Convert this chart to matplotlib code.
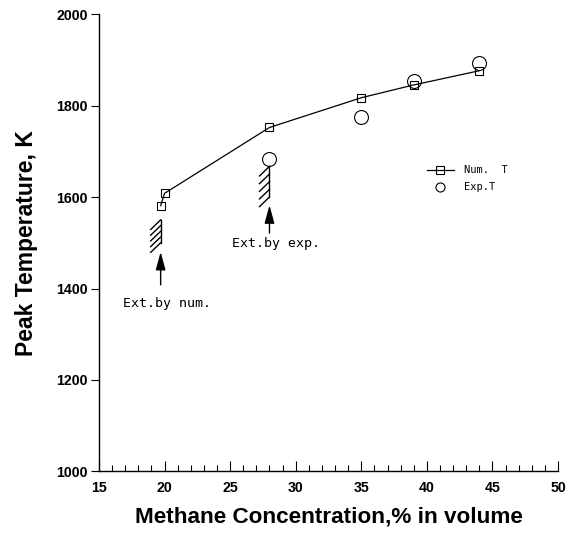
import matplotlib.pyplot as plt
from matplotlib.ticker import MultipleLocator

# peak flame temperature vs. methane concentration
x_num = [19.7, 20, 28, 35, 39, 44]
t_num = [1581, 1608, 1752, 1817, 1845, 1876]
x_exp = [28, 35, 39, 44]
t_exp = [1682, 1774, 1853, 1894]

# extinction limits: (x, hatch top, hatch bottom, arrow tip, arrow tail, label, label x, label y)
limits = [
    (19.7, 1550, 1500, 1480, 1408, 'Ext.by num.', 20.2, 1368),
    (28.0, 1667, 1600, 1582, 1521, 'Ext.by exp.', 28.5, 1498),
]

fig = plt.figure(figsize=(5.68, 5.35), dpi=100)
ax = fig.add_axes([0.1743, 0.1187, 0.8081, 0.8551])

ax.plot(x_num, t_num, color='black', lw=0.9, marker='s', ms=5.8,
        mfc='none', mec='black', mew=0.8, clip_on=False)
ax.plot(x_exp, t_exp, ls='none', marker='o', ms=10,
        mfc='none', mec='black', mew=0.8, clip_on=False)


def hatch_mark(ax, x, y_top, y_bot, n=5):
    # vertical bar with short diagonal strokes hanging off to the left
    ax.plot([x, x], [y_top, y_bot], color='black', lw=1.0)
    dx, dy = 0.76, 21.0
    step = (y_top - y_bot) / (n - 1)
    for i in range(n):
        y = y_top - i * step
        ax.plot([x, x - dx], [y, y - dy], color='black', lw=1.0)


mono = 'DejaVu Sans Mono'
for x, y_top, y_bot, tip, tail, label, lx, ly in limits:
    hatch_mark(ax, x, y_top, y_bot)
    ax.annotate('', xy=(x, tip), xytext=(x, tail),
                arrowprops=dict(arrowstyle='-|>,head_length=1.1,head_width=0.3',
                                color='black', lw=1.0, shrinkA=0, shrinkB=0))
    ax.text(lx, ly, label, family=mono, fontsize=9.5, ha='center', va='center')

# legend drawn in axes fraction
tr = ax.transAxes
ax.plot([0.7146, 0.7734], [0.659, 0.659], color='black', lw=0.9, transform=tr)
ax.plot([0.744], [0.659], marker='s', ms=5.8, mfc='none', mec='black',
        mew=0.8, transform=tr)
ax.plot([0.744], [0.622], marker='o', ms=6.5, mfc='none', mec='black',
        mew=0.8, transform=tr)
ax.text(0.795, 0.659, 'Num.  T', family=mono, fontsize=7.5, va='center', transform=tr)
ax.text(0.795, 0.622, 'Exp.T', family=mono, fontsize=7.5, va='center', transform=tr)

ax.set_xlim(15, 50)
ax.set_ylim(1000, 2000)
ax.xaxis.set_major_locator(MultipleLocator(5))
ax.xaxis.set_minor_locator(MultipleLocator(1))
ax.yaxis.set_major_locator(MultipleLocator(200))

for side in ['top', 'right']:
    ax.spines[side].set_visible(False)
for side in ['left', 'bottom']:
    ax.spines[side].set_linewidth(1.0)

ax.tick_params(axis='x', which='major', direction='in', length=7.2, width=0.8, pad=7)
ax.tick_params(axis='x', which='minor', direction='in', length=4.3, width=0.8)
ax.tick_params(axis='y', which='major', direction='out', length=6, width=0.8, pad=2)

for lab in ax.get_xticklabels() + ax.get_yticklabels():
    lab.set_family('Liberation Sans')
    lab.set_fontweight('bold')
    lab.set_fontsize(10.2)

ax.set_xlabel('Methane Concentration,% in volume', family='Liberation Sans',
              fontweight='bold', fontsize=16.2, labelpad=8)
ax.set_ylabel('Peak Temperature, K', family='Liberation Sans',
              fontweight='bold', fontsize=16.5, labelpad=13)

fig.savefig('out.png', dpi=100)
